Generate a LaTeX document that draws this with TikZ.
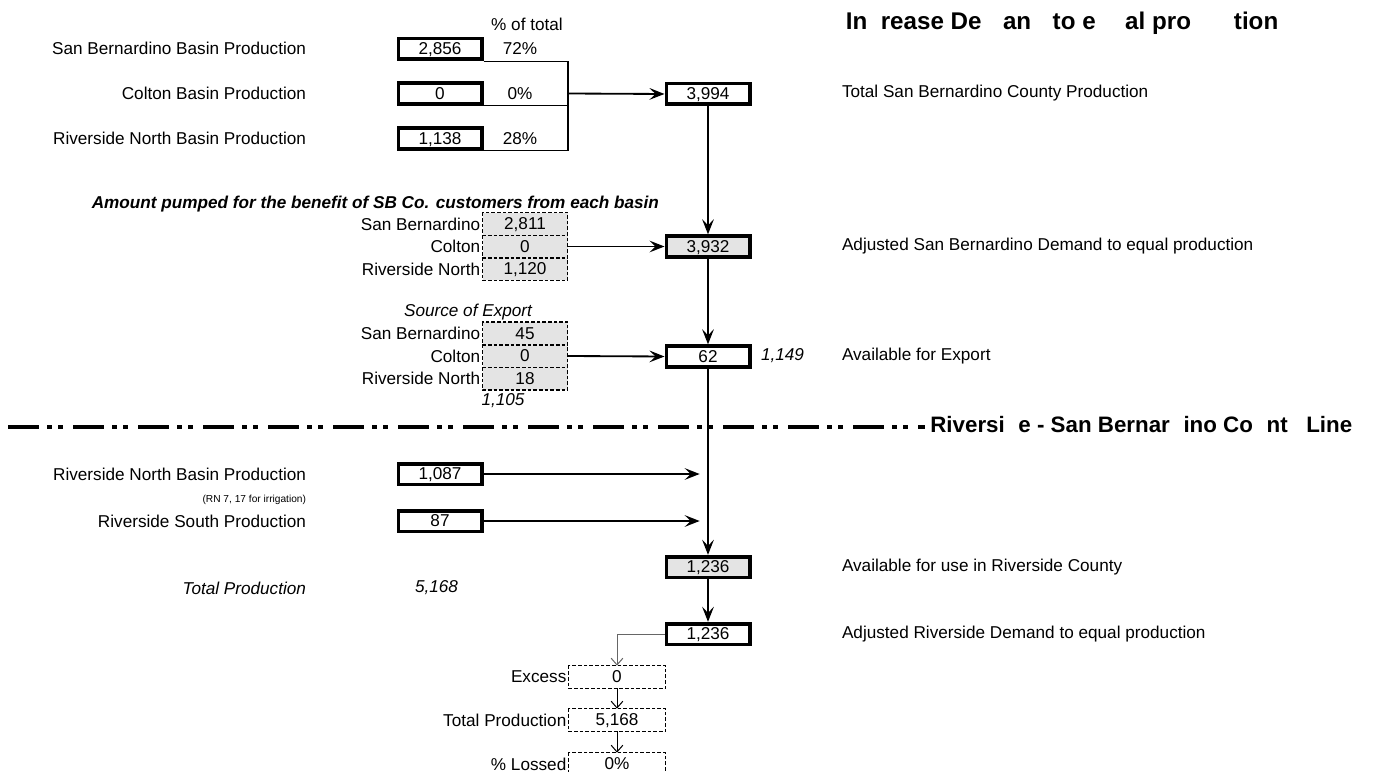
\documentclass[tikz,border=0pt]{standalone}
\usepackage{fontspec}
\setmainfont{Liberation Sans}
\usetikzlibrary{arrows.meta,positioning}

\newcommand{\cellfont}{\fontsize{10.3}{12}\selectfont}
\definecolor{cellgray}{RGB}{228,228,228}

\tikzset{
  lbl/.style={inner sep=1pt, font=\cellfont},
  valbox/.style={draw, line width=2.2pt, minimum width=50pt, minimum height=12.4pt, inner sep=0pt, text height=7.4pt, text depth=0.6pt, font=\cellfont},
  shaded/.style={fill=cellgray},
  srcbox/.style={fill=cellgray, minimum width=51pt, minimum height=13.4pt, inner sep=0pt, text height=7.4pt, text depth=0.6pt, font=\cellfont},
  lossbox/.style={minimum width=58pt, minimum height=13.2pt, inner sep=0pt, text height=7.4pt, text depth=0.6pt, font=\cellfont},
  dashbox/.style={line width=0.7pt, dash pattern=on 2.2pt off 1.2pt},
  flow/.style={line width=1.1pt, -{Stealth[length=9pt,width=7pt,inset=3.6pt]}},
  thinflow/.style={line width=0.6pt, -{Straight Barb[length=4pt,width=7pt]}},
  cline/.style={line width=2pt, dash pattern=on 18.6pt off 4.8pt on 3pt off 3.6pt on 3pt off 6pt}
}

\begin{document}
\begin{tikzpicture}[x=0.6pt, y=-0.6pt]
\useasboundingbox (0,0) rectangle (1398,772);
\clip (0,0) rectangle (1398,772);

% San Bernardino county
\node[anchor=west, font=\fontsize{14.5}{17}\selectfont\bfseries] (ttl) at (840,23)
  {In\phantom{c}rease De\phantom{m}an\phantom{d} to e\phantom{qu}al pro\phantom{duc}tion};
\node[lbl] (pcthead) at (527,24) {\% of total};

\node[lbl, anchor=east] (sbname) at (308,48) {San Bernardino Basin Production};
\node[lbl, anchor=east] (cbname) at (308,93) {Colton Basin Production};
\node[lbl, anchor=east] (rnname) at (308,138) {Riverside North Basin Production};

\node[valbox] (sb) at (440,49) {2,856};
\node[valbox] (cb) at (440,93.5) {0};
\node[valbox] (rn) at (440,138.5) {1,138};

\node[lbl] (sbpct) at (520,49) {72\%};
\node[lbl] (cbpct) at (520,93.5) {0\%};
\node[lbl] (rnpct) at (520,138.5) {28\%};

\coordinate (brk) at (568,93.5);
\draw[line width=0.7pt] (sb.south east) -- (sb.south east -| brk) -- (rn.south east -| brk) -- (rn.south east);
\draw[line width=0.7pt] (cb.south east) -- (cb.south east -| brk);

\node[valbox] (sbtot) at (708,94) {3,994};
\node[lbl, anchor=west] (sbtotname) at (840,93) {Total San Bernardino County Production};
\draw[flow] (brk) -- (sbtot.west);

% pumped for SB customers
\node[lbl, anchor=east, font=\cellfont\bfseries\itshape] (amt) at (661,204) {Amount pumped for the benefit of SB Co. customers from each basin};
\node[srcbox] (a1) at (525,224) {2,811};
\node[srcbox] (a2) at (525,246.5) {0};
\node[srcbox] (a3) at (525,269) {1,120};
\draw[dashbox] (a1.north west) rectangle (a3.south east);
\draw[dashbox] (a1.south west) -- (a1.south east);
\draw[dashbox] (a2.south west) -- (a2.south east);
\node[lbl, left=0pt of a1] {San Bernardino};
\node[lbl, left=0pt of a2] {Colton};
\node[lbl, left=0pt of a3] {Riverside North};

\node[valbox, shaded] (adj) at (708,246.5) {3,932};
\node[lbl, anchor=west] (adjname) at (840,246) {Adjusted San Bernardino Demand to equal production};
\draw[flow] (sbtot.south) -- (adj.north);
\draw[flow] (a2.east) -- (adj.west);

% export
\node[lbl, font=\cellfont\itshape] (srchead) at (468,312) {Source of Export};
\node[srcbox] (e1) at (525,333.5) {45};
\node[srcbox] (e2) at (525,356) {0};
\node[srcbox] (e3) at (525,378.5) {18};
\draw[dashbox] (e1.north west) rectangle (e3.south east);
\draw[dashbox] (e1.south west) -- (e1.south east);
\draw[dashbox] (e2.south west) -- (e2.south east);
\node[lbl, left=0pt of e1] {San Bernardino};
\node[lbl, left=0pt of e2] {Colton};
\node[lbl, left=0pt of e3] {Riverside North};
\node[lbl, font=\cellfont\itshape] (srcsum) at (503,401) {1,105};

\node[valbox] (exp) at (708,356.5) {62};
\node[lbl, anchor=east, font=\cellfont\itshape] (expsum) at (806,356) {1,149};
\node[lbl, anchor=west] (expname) at (840,356) {Available for Export};
\draw[flow] (adj.south) -- (exp.north);
\draw[flow] (e2.east) -- (exp.west);

% county line
\node[anchor=west, inner sep=0pt, font=\fontsize{13.4}{16}\selectfont\bfseries] (cty) at (930,427)
  {Riversi\phantom{d}e - San Bernar\phantom{d}ino Co\phantom{u}nt\phantom{y} Line};
\coordinate (lstart) at (8,427);
\draw[cline] (lstart) -- ([xshift=-3pt]cty.west);

% Riverside county
\node[lbl, anchor=east] (rnbname) at (308,474) {Riverside North Basin Production};
\node[lbl, anchor=east, font=\fontsize{6.1}{7}\selectfont] (rnbnote) at (308,500) {(RN 7, 17 for irrigation)};
\node[lbl, anchor=east] (rsname) at (308,521) {Riverside South Production};
\node[valbox] (rnb) at (440,474) {1,087};
\node[valbox] (rs) at (440,521) {87};

\node[valbox, shaded] (avl) at (708,567) {1,236};
\node[lbl, anchor=west] (avlname) at (840,567) {Available for use in Riverside County};
\draw[flow] (exp.south) -- (avl.north);
\draw[flow] (rnb.east) -- ([xshift=-5pt]rnb -| avl.north);
\draw[flow] (rs.east) -- ([xshift=-5pt]rs -| avl.north);

\node[lbl, anchor=east, font=\cellfont\itshape] (totname) at (308,588) {Total Production};
\node[lbl, anchor=west, font=\cellfont\itshape] (totval) at (413,588) {5,168};

\node[valbox] (adr) at (708,634) {1,236};
\node[lbl, anchor=west] (adrname) at (840,634) {Adjusted Riverside Demand to equal production};
\draw[flow] (avl.south) -- (adr.north);

% losses
\node[lossbox] (exs) at (617,677) {0};
\node[lossbox] (tot) at (617,720) {5,168};
\node[lossbox] (lss) at (617,764) {0\%};
\draw[dashbox] (exs.north west) rectangle (exs.south east);
\draw[dashbox] (tot.north west) rectangle (tot.south east);
\draw[dashbox] (lss.north west) rectangle (lss.south east);
\node[lbl, left=0pt of exs] {Excess};
\node[lbl, left=0pt of tot] {Total Production};
\node[lbl, left=0pt of lss] {\% Lossed};

\draw[thinflow, draw=black!60] (adr.west) -| (exs.north);
\draw[thinflow] (exs.south) -- (tot.north);
\draw[thinflow] (tot.south) -- (lss.north);

\end{tikzpicture}
\end{document}
